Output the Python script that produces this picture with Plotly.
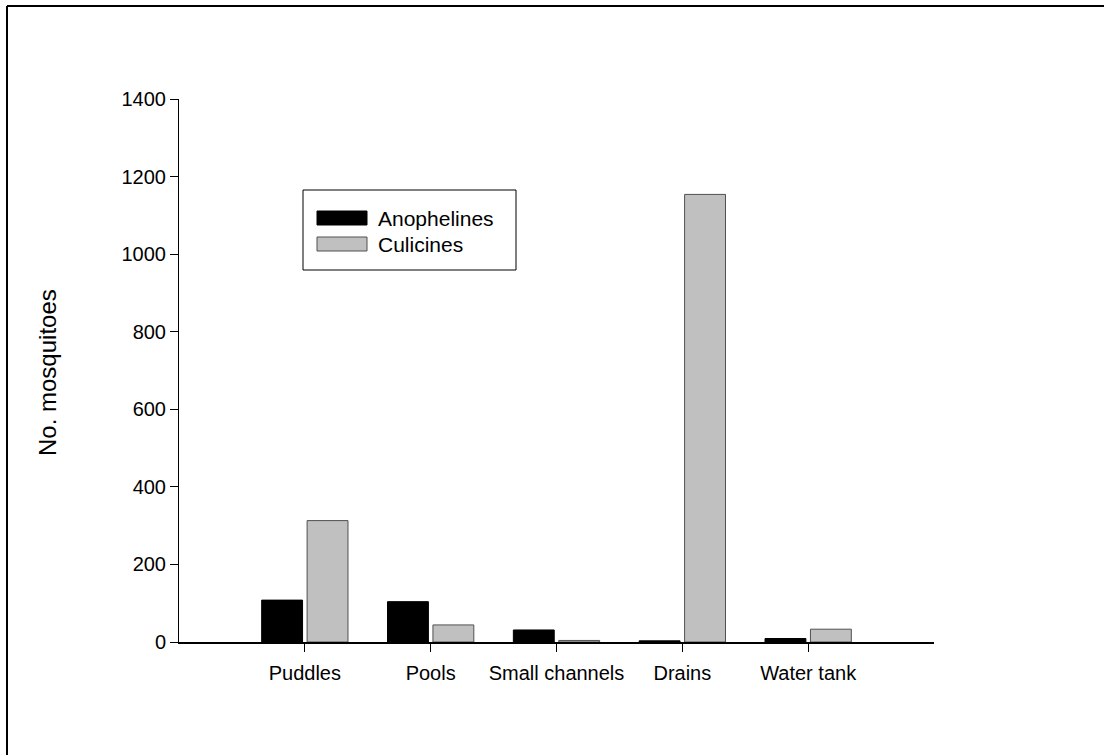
import plotly.graph_objects as go

# Larval habitat types and mosquito counts per genus group
habitats = ["Puddles", "Pools", "Small channels", "Drains", "Water tank"]
anophelines = [108, 104, 31, 3, 9]
culicines = [313, 44, 4, 1154, 33]
y_ticks = [0, 200, 400, 600, 800, 1000, 1200, 1400]

series_names = ["Anophelines", "Culicines"]
fill_colors = ["#000000", "#c0c0c0"]
edge_colors = ["#000000", "#505050"]

FONT = "Liberation Sans, Arial, sans-serif"

fig = go.Figure()
for name, vals, fc, ec in zip(series_names, [anophelines, culicines], fill_colors, edge_colors):
    fig.add_trace(go.Bar(
        x=habitats, y=vals, name=name,
        marker=dict(color=fc, line=dict(color=ec, width=1)),
        showlegend=False,
    ))

L, R, T, B = 179, 170, 99, 113
W, H = 1104, 755

fig.update_layout(
    width=W, height=H,
    margin=dict(l=L, r=R, t=T, b=B),
    paper_bgcolor="white", plot_bgcolor="white",
    barmode="group", bargap=0.278, bargroupgap=0.1,
    font=dict(family=FONT, size=20, color="black"),
    xaxis=dict(
        range=[-1, 5], showline=True, linecolor="black", linewidth=2,
        ticks="outside", ticklen=8, tickwidth=1, tickcolor="black",
        showgrid=False, zeroline=False, ticklabelstandoff=4,
        tickfont=dict(family=FONT, size=20),
    ),
    yaxis=dict(
        range=[0, 1400], tickvals=y_ticks, showline=True, linecolor="black", linewidth=1,
        ticks="outside", ticklen=8, tickwidth=1, tickcolor="black",
        showgrid=False, zeroline=False,
        tickfont=dict(family=FONT, size=20),
    ),
)


def px_x(px):
    return (px - L) / (W - L - R)


def px_y(py):
    return (H - B - py) / (H - B - T)


# Axis title
fig.add_annotation(xref="paper", yref="paper", x=px_x(47), y=px_y(373),
                   text="No. mosquitoes", textangle=-90, showarrow=False,
                   xanchor="center", yanchor="middle",
                   font=dict(family=FONT, size=24, color="black"))

# Outer frame (top and left edges visible)
fig.add_shape(type="line", xref="paper", yref="paper",
              x0=px_x(7), x1=px_x(1110), y0=px_y(6), y1=px_y(6),
              line=dict(color="black", width=2))
fig.add_shape(type="line", xref="paper", yref="paper",
              x0=px_x(7), x1=px_x(7), y0=px_y(760), y1=px_y(6),
              line=dict(color="black", width=2))

# Legend box
fig.add_shape(type="rect", xref="paper", yref="paper",
              x0=px_x(303), x1=px_x(516), y0=px_y(190), y1=px_y(270),
              line=dict(color="black", width=1), fillcolor="white")
for i, (name, fc, ec) in enumerate(zip(series_names, fill_colors, edge_colors)):
    yc = 218 + i * 26
    fig.add_shape(type="rect", xref="paper", yref="paper",
                  x0=px_x(317), x1=px_x(367), y0=px_y(yc - 7), y1=px_y(yc + 7),
                  line=dict(color=ec, width=1), fillcolor=fc)
    fig.add_annotation(xref="paper", yref="paper", x=px_x(376), y=px_y(yc),
                       text=name, showarrow=False, xanchor="left", yanchor="middle",
                       font=dict(family=FONT, size=21, color="black"))

fig.write_html("out.html")
